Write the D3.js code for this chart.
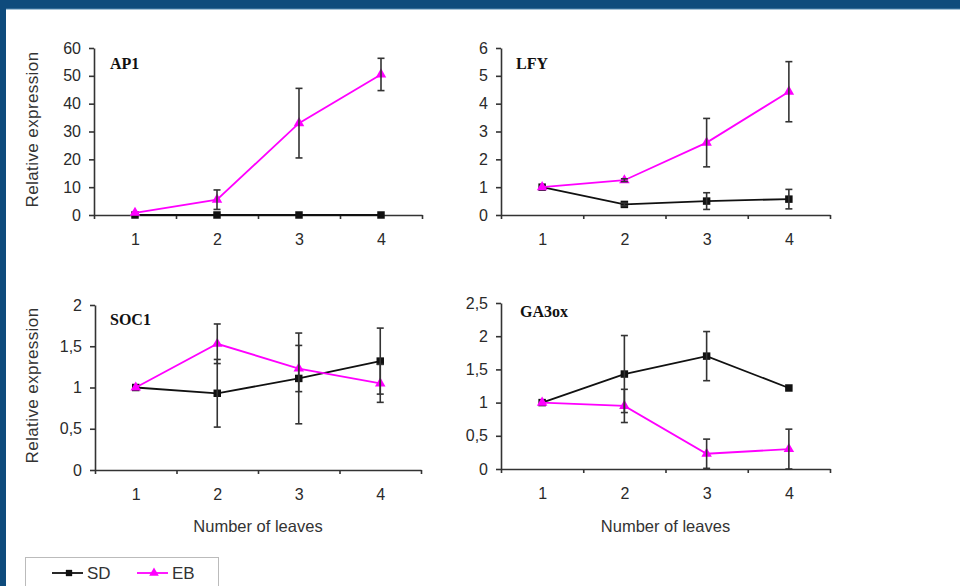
<!DOCTYPE html>
<html>
<head>
<meta charset="utf-8">
<script src="https://cdn.jsdelivr.net/npm/d3@7"></script>
<style>
	body { margin: 0; background: #fff; }
	svg { display: block; }
</style>
</head>
<body>
<svg id="chart" width="960" height="586"></svg>
<script>
// Values
const leaves = [1, 2, 3, 4];
const genes = ["AP1", "LFY", "SOC1", "GA3ox"];
const sdMean = [
	[0, 0, 0, 0],
	[1, 0.38, 0.5, 0.57],
	[1, 0.93, 1.11, 1.32],
	[1, 1.43, 1.7, 1.22],
];
const sdErr = [
	[0, 0, 0, 0],
	[0, 0.05, 0.3, 0.35],
	[0, 0.41, 0.55, 0.4],
	[0, 0.58, 0.37, 0],
];
const ebMean = [
	[0.8, 5.5, 33, 50.5],
	[1, 1.25, 2.6, 4.43],
	[1, 1.53, 1.23, 1.05],
	[1, 0.95, 0.23, 0.3],
];
const ebErr = [
	[0, 3.5, 12.5, 5.8],
	[0, 0.05, 0.87, 1.08],
	[0, 0.24, 0.28, 0.23],
	[0, 0.25, 0.22, 0.3],
];
const yMax = [60, 6, 2, 2.5];
const yStep = [10, 1, 0.5, 0.5];
const seriesNames = ["SD", "EB"];

// layout
const layout = [
	{ x0: 94, x1: 422, top: 48, bottom: 215, tx: 110, ty: 69, ylab: true },
	{ x0: 501, x1: 830, top: 48, bottom: 215, tx: 516, ty: 69, ylab: false },
	{ x0: 95, x1: 421, top: 305, bottom: 470, tx: 110, ty: 325, ylab: true, xlab: true },
	{ x0: 501, x1: 830, top: 303, bottom: 469, tx: 520, ty: 317, ylab: false, xlab: true },
];
const sdColor = "#111";
const ebColor = "#ff00ff";
const axisColor = "#333";
const sansFont = "'Liberation Sans', Arial, sans-serif";
const serifFont = "'Liberation Serif', 'Times New Roman', serif";

const svg = d3.select("#chart");

// frame
svg.append("rect").attr("x", 0).attr("y", 0).attr("width", 960).attr("height", 9).attr("fill", "#0e4b7c");
svg.append("rect").attr("x", 0).attr("y", 8.5).attr("width", 960).attr("height", 1).attr("fill", "#4f86ad");
svg.append("rect").attr("x", 0).attr("y", 0).attr("width", 6).attr("height", 586).attr("fill", "#0e4b7c");

const fmt = (d) => String(d).replace(".", ",");

genes.forEach((gene, gi) => {
	const L = layout[gi];
	const g = svg.append("g").classed("panel", true);

	const x = d3.scaleLinear().domain([0.5, 4.5]).range([L.x0, L.x1]);
	const y = d3.scaleLinear().domain([0, yMax[gi]]).range([L.bottom, L.top]);
	const yTicks = d3.range(0, yMax[gi] + yStep[gi] / 2, yStep[gi]).map((v) => +v.toFixed(2));

	// y axis
	const ya = g
		.append("g")
		.attr("transform", `translate(${L.x0},0)`)
		.call(d3.axisLeft(y).tickValues(yTicks).tickSize(5).tickPadding(8).tickSizeOuter(0).tickFormat(fmt));
	// x axis with ticks at the band edges
	const xa = g
		.append("g")
		.attr("transform", `translate(0,${L.bottom})`)
		.call(d3.axisBottom(x).tickValues([0.5, 1.5, 2.5, 3.5, 4.5]).tickSize(4).tickSizeOuter(0).tickFormat(""));
	const xl = g
		.append("g")
		.attr("transform", `translate(0,${L.bottom})`)
		.call(d3.axisBottom(x).tickValues(leaves).tickSize(0).tickPadding(19).tickFormat(d3.format("d")));
	xl.select(".domain").remove();

	[ya, xa, xl].forEach((a) => {
		a.selectAll("path, line").attr("stroke", axisColor).attr("stroke-width", 1.6);
		a.selectAll("text").attr("font-family", sansFont).attr("font-size", 16).attr("fill", "#2a2a2a");
	});

	if (L.ylab) {
		g.append("text")
			.attr("transform", `translate(38,${(L.top + L.bottom) / 2 - 2}) rotate(-90)`)
			.attr("text-anchor", "middle")
			.attr("font-family", sansFont)
			.attr("font-size", 17)
			.attr("fill", "#333")
			.attr("letter-spacing", 0.4)
			.text("Relative expression");
	}
	if (L.xlab) {
		g.append("text")
			.attr("x", (L.x0 + L.x1) / 2)
			.attr("y", 532)
			.attr("text-anchor", "middle")
			.attr("font-family", sansFont)
			.attr("font-size", 16.5)
			.attr("fill", "#333")
			.text("Number of leaves");
	}

	g.append("text")
		.attr("x", L.tx)
		.attr("y", L.ty)
		.attr("font-family", serifFont)
		.attr("font-weight", "bold")
		.attr("font-size", 16)
		.attr("fill", "#111")
		.text(gene);

	const series = [
		{ name: "SD", mean: sdMean[gi], err: sdErr[gi], color: sdColor, shape: d3.symbolSquare },
		{ name: "EB", mean: ebMean[gi], err: ebErr[gi], color: ebColor, shape: d3.symbolTriangle },
	];

	const line = d3
		.line()
		.x((d, i) => x(leaves[i]))
		.y((d) => y(d));

	series.forEach((s) => {
		g.append("path")
			.attr("d", line(s.mean))
			.attr("fill", "none")
			.attr("stroke", s.color)
			.attr("stroke-width", 1.8);
		g.selectAll(".m-" + s.name)
			.data(s.mean)
			.join("path")
			.attr("class", "m-" + s.name)
			.attr("transform", (d, i) => `translate(${x(leaves[i])},${y(d)})`)
			.attr("d", d3.symbol().type(s.shape).size(s.name === "SD" ? 56 : 48))
			.attr("fill", s.color);
	});

	// error bars
	series.forEach((s) => {
		const bars = s.mean
			.map((m, i) => ({ i, lo: Math.max(0, m - s.err[i]), hi: m + s.err[i], e: s.err[i] }))
			.filter((d) => d.e > 0.02);
		const eg = g.selectAll(".e-" + s.name).data(bars).join("g").attr("class", "e-" + s.name);
		eg.append("line")
			.attr("x1", (d) => x(leaves[d.i]))
			.attr("x2", (d) => x(leaves[d.i]))
			.attr("y1", (d) => y(d.lo))
			.attr("y2", (d) => y(d.hi));
		eg.append("line")
			.attr("x1", (d) => x(leaves[d.i]) - 3.5)
			.attr("x2", (d) => x(leaves[d.i]) + 3.5)
			.attr("y1", (d) => y(d.hi))
			.attr("y2", (d) => y(d.hi));
		eg.append("line")
			.attr("x1", (d) => x(leaves[d.i]) - 3.5)
			.attr("x2", (d) => x(leaves[d.i]) + 3.5)
			.attr("y1", (d) => y(d.lo))
			.attr("y2", (d) => y(d.lo));
		eg.selectAll("line").attr("stroke", "#333").attr("stroke-width", 1.6);
	});
});

// legend
const lg = svg.append("g").attr("transform", "translate(25,557)");
lg.append("rect")
	.attr("x", 0.5)
	.attr("y", 0.5)
	.attr("width", 193)
	.attr("height", 40)
	.attr("fill", "#fff")
	.attr("stroke", "#bbb");
const legendItems = [
	{ name: seriesNames[0], color: sdColor, shape: d3.symbolSquare, x: 27 },
	{ name: seriesNames[1], color: ebColor, shape: d3.symbolTriangle, x: 112 },
];
const li = lg
	.selectAll(".li")
	.data(legendItems)
	.join("g")
	.attr("class", "li")
	.attr("transform", (d) => `translate(${d.x},16)`);
li.append("line")
	.attr("x1", 0)
	.attr("x2", 31)
	.attr("stroke", (d) => d.color)
	.attr("stroke-width", 1.8);
li.append("path")
	.attr("transform", "translate(17,0)")
	.attr("d", (d) => d3.symbol().type(d.shape).size(40)())
	.attr("fill", (d) => d.color);
li.append("text")
	.attr("x", 35)
	.attr("y", 6)
	.attr("font-family", sansFont)
	.attr("font-size", 17)
	.attr("fill", "#333")
	.text((d) => d.name);
</script>
</body>
</html>
